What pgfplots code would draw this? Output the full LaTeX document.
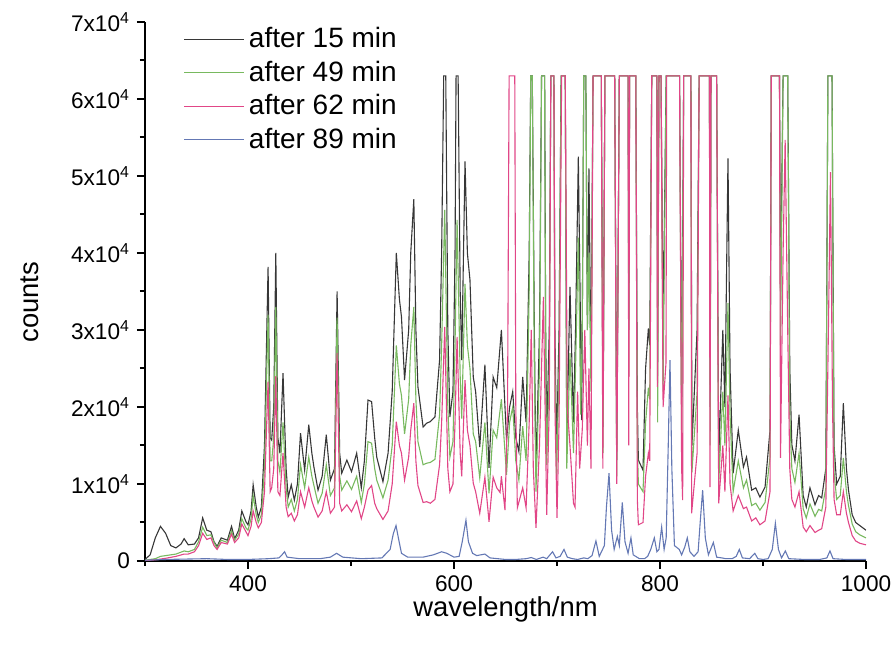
\documentclass[border=0pt]{standalone}
\usepackage{fontspec}
\setmainfont{Liberation Sans}
\usepackage{pgfplots}
\pgfplotsset{compat=1.18}

\definecolor{c15}{RGB}{55,55,55}
\definecolor{c49}{RGB}{120,185,95}
\definecolor{c62}{RGB}{225,70,135}
\definecolor{c89}{RGB}{100,120,180}

\begin{document}
\begin{tikzpicture}
\begin{axis}[
  name=ax,
  scale only axis,
  width=360.5pt, height=269.5pt,
  xmin=300, xmax=1000, ymin=0, ymax=70000,
  axis x line*=bottom, axis y line*=left,
  axis line style={line width=1pt},
  tick align=outside,
  major tick length=4pt, minor tick length=2.5pt,
  every tick/.style={black, line width=1pt},
  xtick={400,600,800,1000},
  minor xtick={300,500,700,900},
  ytick={0,10000,20000,30000,40000,50000,60000,70000},
  yticklabels={0,1x10\textsuperscript{4},2x10\textsuperscript{4},3x10\textsuperscript{4},4x10\textsuperscript{4},5x10\textsuperscript{4},6x10\textsuperscript{4},7x10\textsuperscript{4}},
  minor ytick={5000,15000,25000,35000,45000,55000,65000},
  /pgf/number format/assume math mode=true,
  /pgf/number format/1000 sep={},
  scaled y ticks=false,
  tick label style={font=\fontsize{11.3}{13}\selectfont},
  xticklabel style={yshift=0pt},
  xlabel={wavelength/nm}, ylabel={counts},
  label style={font=\fontsize{13.7}{16}\selectfont},
  xlabel style={at={(axis description cs:0.5,-0.09)}, anchor=center},
  ylabel style={at={(axis description cs:-0.16,0.48)}, anchor=center},
  legend style={draw=none, fill=none, at={(axis description cs:0.045,1.005)}, anchor=north west,
    font=\fontsize{14}{16}\selectfont, row sep=1.1pt},
  legend cell align=left,
  legend image code/.code={\draw[#1] (0pt,0pt) -- (30pt,0pt);},
  every axis plot/.append style={line width=0.55pt},
]
% after 15 min
\addplot[c15] coordinates {
(300,200) (305,800) (310,3000) (315,4500) (320,3600) (325,2000) (330,1700) (335,2200) (338,2900) (342,2100)
(348,2200) (352,3000) (356,5600) (360,4000) (364,3800) (367,2500) (370,1900) (374,3000) (380,2700) (384,4500)
(387,2900) (391,4000) (394,6500) (398,5100) (400,4700) (403,6500) (405,9900) (408,7000) (410,5700) (413,7000)
(416,15000) (419.5,38200) (421.5,16000) (423,15700) (425,20000) (427,40000) (429,16000) (431,14000) (434,24400) (437,12000)
(439,8300) (442,9900) (445,7900) (448,10000) (451,16600) (455,11800) (459,17700) (462,14000) (464,12200) (468,9200)
(472,11000) (476,16400) (480,10500) (484,12000) (486.5,35000) (489,14000) (491,11400) (496,13100) (500.5,11600) (505.5,14000)
(510,9500) (513,13000) (516.5,20900) (520,20700) (523,16000) (525,13500) (531,10300) (536,14000) (540,22000) (544,40000)
(547,34000) (549,31700) (552,23500) (556,30000) (558,40000) (561,47000) (563,30000) (565,22600) (570,17400) (573.5,17900)
(577,18100) (581.5,18700) (586,26100) (588,40000) (590,63000) (592,63000) (594,30000) (596,18700) (599,22000) (601,40000)
(602,63000) (604,63000) (606,35000) (607.5,26100) (610.7,51900) (613,40000) (615.5,36500) (618.7,23900) (621,22000) (625,14800)
(630,25500) (634,12100) (638,23900) (641.5,22500) (646,30000) (651,15700) (654,20000) (657,22000) (660,16000) (663,14200)
(666.7,23900) (670,18000) (673,40000) (674.5,63000) (676,63000) (678,30000) (679.6,11000) (683,30000) (685,63000) (688,63000)
(689,30000) (690,16100) (692.5,30000) (694,63000) (697,63000) (698,30000) (699.6,14400) (702,30000) (704,63000) (708,63000)
(709.5,15000) (712.6,35600) (716,18000) (718,30000) (720.7,52500) (724,18300) (726,63000) (728,63000) (729.5,30000) (731,51000)
(733,25000) (735,63000) (743,63000) (744.7,17400) (746.5,63000) (756,63000) (758,13100) (760.5,63000) (769,63000) (769.7,30000)
(770.5,63000) (776.5,63000) (778,20000) (779,13100) (783.5,11800) (786,25000) (788.7,30200) (790,28000) (792,63000) (797,63000)
(797.7,24000) (799,63000) (801,63000) (803,30000) (806,63000) (819,63000) (821,20000) (823,63000) (830,63000) (831,15000)
(836,30000) (838,63000) (848,63000) (848.7,20000) (849.5,63000) (855,63000) (857,13100) (861,30000) (863,20000) (866,52300)
(868,25000) (871,11400) (876,17000) (881,12200) (884,13500) (889,9200) (893,9500) (897,8300) (902,9600) (906.8,17000)
(908,63000) (916,63000) (917,35000) (919.5,63000) (924,63000) (926,25000) (928,15100) (931,13000) (935,19000) (939,8500)
(942,7000) (945.6,9500) (950.5,7300) (954,8500) (957,8200) (961,12000) (963,63000) (967,63000) (969,15000) (971.5,10000)
(975,11000) (978,20500) (981,12000) (983,9200) (986.6,6000) (990,5000) (994,4600) (1000,4000)
};
\addlegendentry{after 15 min}
% after 49 min
\addplot[c49] coordinates {
(300,100) (310,300) (315,600) (320,700) (330,900) (338,1300) (342,1200) (348,1500) (352,2500) (356,4400)
(360,3300) (364,3400) (367,2400) (370,1700) (374,2700) (380,2400) (384,3900) (387,2700) (391,3500) (394,5500)
(398,4300) (400,4000) (403,5500) (405,8500) (408,6000) (410,5000) (413,6000) (416,12000) (419.5,32000) (421.5,13000)
(423,13000) (425,16000) (427,33000) (429,13000) (431,11500) (434,18000) (437,9500) (439,7000) (442,8000) (445,6500)
(448,8000) (451,12500) (455,9500) (459,13500) (462,11000) (464,9800) (468,7500) (472,8800) (476,12500) (480,8500)
(484,9500) (486.5,31600) (489,11000) (491,9200) (496,10400) (500.5,9300) (505.5,11000) (510,7600) (513,10000) (516.5,15500)
(520,15300) (523,12000) (525,10500) (531,8200) (536,10500) (540,15000) (544,28000) (547,23000) (549,21500) (552,16500)
(556,21000) (558,28000) (561,33000) (563,21000) (565,15500) (570,12500) (573.5,12700) (577,12800) (581.5,13200) (586,19000)
(588,28000) (591,45600) (594,20000) (596,13500) (599,15500) (601,28000) (603,44300) (606,24000) (607.5,18500) (610.7,36000)
(613,28000) (615.5,25000) (618.7,16500) (621,15500) (625,10800) (630,18000) (634,8800) (638,17000) (641.5,16000) (646,21000)
(651,11200) (654,18000) (657,20000) (660,13000) (663,10500) (666.7,17500) (670,13000) (673,35000) (674.5,63000) (676,63000)
(678,25000) (679.6,9000) (683,25000) (685,63000) (688,63000) (689,25000) (690,12500) (692.5,25000) (694,63000) (697,63000)
(698,25000) (699.6,11000) (702,25000) (704,63000) (708,63000) (709.5,12000) (712.6,27000) (716,14000) (718,25000) (720.7,42000)
(723,19000) (724.5,30000) (726,63000) (728,63000) (729.5,30000) (731,40000) (733,22000) (735,63000) (743,63000) (744.7,14000)
(746.5,63000) (756,63000) (758,11000) (760.5,63000) (769,63000) (769.7,24000) (770.5,63000) (776.5,63000) (778,15000) (779,10000)
(783.5,9000) (786,18000) (788.7,22500) (790,21000) (792,63000) (797,63000) (797.7,18000) (799,63000) (801,63000) (803,22000)
(806,63000) (819,63000) (821,15000) (823,63000) (830,63000) (831,11500) (836,22000) (838,63000) (848,63000) (848.7,15000)
(849.5,63000) (855,63000) (857,10000) (861,22000) (863,15000) (866,33500) (868,19000) (871,9000) (876,13000) (881,9500)
(884,10500) (889,7200) (893,7500) (897,6600) (902,7600) (906.8,13500) (908,63000) (916,63000) (917,28000) (919.5,63000)
(924,63000) (926,19000) (928,12000) (931,10200) (935,14000) (939,6800) (942,5600) (945.6,7400) (950.5,5800) (954,6700)
(957,6500) (961,9500) (963,63000) (967,63000) (969,11500) (971.5,8000) (975,8500) (978,13400) (981,9000) (983,7200)
(986.6,4800) (990,3800) (994,3400) (1000,3000)
};
\addlegendentry{after 49 min}
% after 62 min
\addplot[c62] coordinates {
(300,50) (310,150) (315,250) (320,350) (330,600) (338,900) (342,900) (348,1200) (352,2000) (356,3600)
(360,2800) (364,3000) (367,2000) (370,1500) (374,2400) (380,2200) (384,3500) (387,2400) (391,3000) (394,4800)
(398,3800) (400,3300) (403,4500) (405,6500) (408,5000) (410,4300) (413,5000) (416,9000) (419.5,23300) (421.5,9000)
(423,9500) (425,12000) (427,24000) (429,9000) (431,8500) (434,14000) (437,7000) (439,5750) (442,6200) (445,5200)
(448,6000) (451,9000) (455,7000) (459,9500) (462,7800) (464,7000) (468,5700) (472,6500) (476,9000) (480,6200)
(484,7000) (486.5,27000) (489,7500) (491,6500) (496,7300) (500.5,6400) (505.5,7800) (510,5500) (513,7000) (516.5,9200)
(520,9800) (523,7500) (525,6800) (531,5400) (536,6500) (540,10000) (544,18100) (547,15000) (549,14000) (552,10500)
(556,13500) (558,17000) (561,20500) (563,13000) (565,9800) (570,7600) (573.5,7700) (577,7500) (581.5,8000) (586,12500)
(588,18000) (591,30400) (594,12000) (596,9000) (599,10000) (601,18000) (603,29100) (606,14000) (607.5,11000) (610.7,23500)
(613,17000) (615.5,15000) (618.7,10100) (621,9000) (625,6200) (630,10900) (634,5100) (638,10900) (641.5,9500) (644.7,8900)
(646,11000) (649.5,6600) (652,20000) (653.5,63000) (659,63000) (660,20000) (661.5,6900) (666.7,9500) (670,6900) (673,18000)
(675,30000) (677,12000) (679.6,4300) (683,15000) (686.8,34300) (689,15000) (690,6000) (692.5,20000) (694,63000) (697,63000)
(698,20000) (700,5600) (702,18000) (704.5,63000) (708,63000) (710,20000) (712.6,15000) (716,7500) (717.5,7000) (720,22000)
(722,12000) (724.5,17000) (727,30000) (729.5,15000) (731,25000) (733,12000) (735,63000) (743,63000) (744.5,12000) (746.5,63000)
(756,63000) (758,10000) (760.5,63000) (769,63000) (769.7,15000) (770.5,63000) (776.5,63000) (778,8000) (779,4700) (783.5,5000)
(786,11000) (788.7,14000) (790,13000) (792,63000) (797,63000) (797.5,22600) (799,63000) (801,63000) (803,20000) (805.8,25700)
(806.5,63000) (819,63000) (821,12000) (822,7900) (823,63000) (830,63000) (830.7,6200) (836,14000) (838,63000) (848,63000)
(848.5,9600) (849.5,63000) (855,63000) (857,7500) (861,15000) (863,9000) (866,21500) (868,10000) (871,6500) (876,8500)
(881,6800) (884,7000) (889,5200) (893,5600) (897,4700) (902,5200) (906.8,9000) (908,63000) (916,63000) (917,13400)
(919.5,40000) (921.5,54700) (924,30000) (926,12000) (928,8000) (931,7000) (935,9000) (939,4400) (942,3800) (945.6,4600)
(950.5,3700) (954,4000) (957,4200) (961,7000) (963.5,30000) (965.5,50500) (967.5,20000) (969,8000) (971.5,6000) (975,6000)
(978,9000) (981,6200) (983,5000) (986.6,3300) (990,2600) (994,2300) (1000,2100)
};
\addlegendentry{after 62 min}
% after 89 min
\addplot[c89] coordinates {
(300,100) (320,200) (340,250) (360,300) (380,200) (400,200) (420,300) (430,400) (433,800) (435.5,1200)
(438,500) (450,300) (470,300) (480,500) (486,1000) (492,500) (510,300) (530,400) (538,1500) (541,3500)
(543.7,4600) (546,3000) (549,1000) (555,500) (570,500) (580,800) (588,1200) (593,1000) (600,500) (605,600)
(608,2500) (611.6,5300) (614,2500) (618,1000) (622,700) (630,900) (635,400) (650,200) (660,200) (670,300)
(675,450) (680,200) (686.5,500) (690,300) (695.7,1200) (699,400) (703,600) (706.8,1500) (710,500) (715,300)
(720,200) (726,400) (730,300) (734,700) (737.8,2600) (741,600) (746,2000) (748,7000) (750.5,11400) (753,4000)
(755.5,1500) (758.6,3200) (760.5,2000) (763.4,7600) (766,2500) (769,1000) (771.8,3000) (774,800) (780,300) (785,300)
(788,600) (791,1500) (794.5,3000) (797,1200) (799,1500) (801.6,4400) (804,1500) (806,3000) (808,15000) (809.7,26100)
(811.5,12000) (814,2000) (818.7,1500) (821,800) (824,1800) (826.5,3000) (829,1200) (833,600) (837,1200) (839,5000)
(841.4,9200) (844,3000) (847,800) (851.8,2400) (855,500) (860,400) (864,300) (870,300) (874,600) (877,1500)
(880,400) (887,300) (892,1000) (895,300) (900,200) (905,300) (909,1500) (912,4900) (915,1500) (918,400)
(921.7,1300) (925,300) (940,200) (955,200) (962,400) (965,1300) (968,300) (980,200) (1000,200)
};
\addlegendentry{after 89 min}
\end{axis}
\pgfresetboundingbox
\path[use as bounding box] ([shift={(-72.5pt,-42.5pt)}]ax.south west) rectangle ([shift={(13.5pt,11pt)}]ax.north east);
\end{tikzpicture}
\end{document}
